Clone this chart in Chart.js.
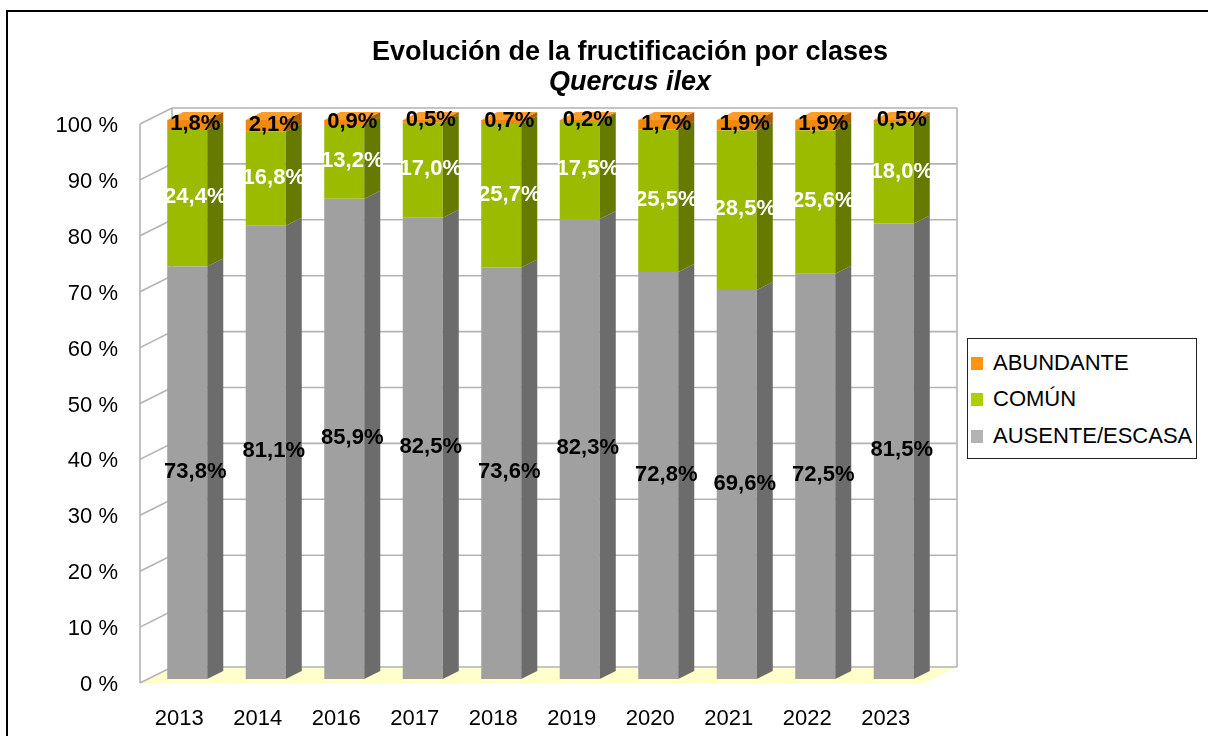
<!DOCTYPE html>
<html>
<head>
<meta charset="utf-8">
<script src="https://cdn.jsdelivr.net/npm/chart.js@4.4.1/dist/chart.umd.min.js"></script>
<style>
  html, body { margin: 0; padding: 0; background: #fff; overflow: hidden; }
  #wrap { position: relative; width: 1208px; height: 736px; overflow: hidden; }
  #frame { position: absolute; left: 6px; top: 10px; width: 1400px; height: 900px;
           border-left: 2px solid #000; border-top: 2px solid #000; }
  canvas { position: absolute; left: 0; top: 0; }
  #legend { position: absolute; left: 967px; top: 338px; width: 228px; height: 119px;
            border: 1px solid #222; background: #fff;
            font-family: "Liberation Sans", Arial, sans-serif; font-size: 22px; color: #000; }
  .item { position: absolute; left: 3px; height: 26px; line-height: 26px; white-space: nowrap; }
  .sw { position: absolute; left: 0; top: 7px; width: 12px; height: 13px; }
  .tx { position: absolute; left: 22px; top: 0; }
</style>
</head>
<body>
<div id="wrap">
  <div id="frame"></div>
  <canvas id="c" width="1208" height="736"></canvas>
  <div id="legend"></div>
</div>
<script>
// ---- data ----
const categories = ['2013', '2014', '2016', '2017', '2018', '2019', '2020', '2021', '2022', '2023'];
const ausenteEscasa = [73.8, 81.1, 85.9, 82.5, 73.6, 82.3, 72.8, 69.6, 72.5, 81.5];
const comun         = [24.4, 16.8, 13.2, 17.0, 25.7, 17.5, 25.5, 28.5, 25.6, 18.0];
const abundante     = [1.8, 2.1, 0.9, 0.5, 0.7, 0.2, 1.7, 1.9, 1.9, 0.5];
const seriesNames = ['AUSENTE/ESCASA', 'COMÚN', 'ABUNDANTE'];
const titleText = 'Evolución de la fructificación por clases';
const subtitleText = 'Quercus ilex';

// ---- styles ----
const FONT = "'Liberation Sans', Arial, Helvetica, sans-serif";
const frontColors  = ['#a0a0a0', '#9bbb00', '#f08a0c'];
const sideColors   = ['#6c6c6c', '#667a00', '#a85f06'];
const legendColors = ['#b3b3b3', '#aecf00', '#ff950e'];
const labelColors  = ['#000000', '#ffffff', '#000000'];
const topColor = '#ff9d2a';

// 3D offsets (relative to the bar plane handled by Chart.js)
const BAR_DX = 16, BAR_DY = -8;
const BACK_DX = 24, BACK_DY = -12;
const FRONT_DX = -8, FRONT_DY = 4;
const LABEL_DY = -1;

function fmt(v) { return v.toFixed(1).replace('.', ',') + '%'; }

const depthPlugin = {
  id: 'depth3d',
  beforeDatasetsDraw(chart) {
    const { ctx, chartArea: ca, scales } = chart;
    const y = scales.y;
    const L = ca.left, R = ca.right;
    const y0 = y.getPixelForValue(0), y1 = y.getPixelForValue(100);
    ctx.save();
    // floor
    ctx.fillStyle = '#ffffcc';
    ctx.beginPath();
    ctx.moveTo(L + BACK_DX, y0 + BACK_DY);
    ctx.lineTo(R + BACK_DX, y0 + BACK_DY);
    ctx.lineTo(R + FRONT_DX, y0 + FRONT_DY);
    ctx.lineTo(L + FRONT_DX, y0 + FRONT_DY);
    ctx.closePath();
    ctx.fill();
    // back wall
    ctx.fillStyle = '#ffffff';
    ctx.fillRect(L + BACK_DX, y1 + BACK_DY, R - L, y0 - y1);
    // left wall
    ctx.beginPath();
    ctx.moveTo(L + FRONT_DX, y1 + FRONT_DY);
    ctx.lineTo(L + BACK_DX, y1 + BACK_DY);
    ctx.lineTo(L + BACK_DX, y0 + BACK_DY);
    ctx.lineTo(L + FRONT_DX, y0 + FRONT_DY);
    ctx.closePath();
    ctx.fill();
    // grid lines
    ctx.strokeStyle = '#b3b3b3';
    ctx.lineWidth = 1.6;
    y.ticks.forEach(t => {
      const py = y.getPixelForValue(t.value);
      ctx.beginPath();
      ctx.moveTo(L + FRONT_DX, py + FRONT_DY);
      ctx.lineTo(L + BACK_DX, py + BACK_DY);
      ctx.lineTo(R + BACK_DX, py + BACK_DY);
      ctx.stroke();
    });
    // wall edges
    ctx.beginPath();
    ctx.moveTo(L + FRONT_DX, y1 + FRONT_DY);
    ctx.lineTo(L + FRONT_DX, y0 + FRONT_DY);
    ctx.moveTo(L + BACK_DX, y1 + BACK_DY);
    ctx.lineTo(L + BACK_DX, y0 + BACK_DY);
    ctx.moveTo(R + BACK_DX, y1 + BACK_DY);
    ctx.lineTo(R + BACK_DX, y0 + BACK_DY);
    ctx.stroke();
    ctx.restore();
  },
  afterDatasetsDraw(chart) {
    const { ctx } = chart;
    ctx.save();
    const n = chart.data.datasets.length;
    // side faces
    for (let d = 0; d < n; d++) {
      const meta = chart.getDatasetMeta(d);
      meta.data.forEach(el => {
        const p = el.getProps(['x', 'y', 'base', 'width'], true);
        const right = p.x + p.width / 2;
        ctx.fillStyle = sideColors[d];
        ctx.beginPath();
        ctx.moveTo(right, p.y);
        ctx.lineTo(right + BAR_DX, p.y + BAR_DY);
        ctx.lineTo(right + BAR_DX, p.base + BAR_DY);
        ctx.lineTo(right, p.base);
        ctx.closePath();
        ctx.fill();
      });
    }
    // top faces of the highest segment
    const topMeta = chart.getDatasetMeta(n - 1);
    topMeta.data.forEach(el => {
      const p = el.getProps(['x', 'y', 'base', 'width'], true);
      const left = p.x - p.width / 2, right = p.x + p.width / 2;
      ctx.fillStyle = topColor;
      ctx.beginPath();
      ctx.moveTo(left, p.y);
      ctx.lineTo(right, p.y);
      ctx.lineTo(right + BAR_DX, p.y + BAR_DY);
      ctx.lineTo(left + BAR_DX, p.y + BAR_DY);
      ctx.closePath();
      ctx.fill();
    });
    // value labels
    ctx.font = 'bold 22px ' + FONT;
    ctx.textAlign = 'center';
    ctx.textBaseline = 'middle';
    for (let d = 0; d < n; d++) {
      const meta = chart.getDatasetMeta(d);
      const values = chart.data.datasets[d].data;
      meta.data.forEach((el, i) => {
        const p = el.getProps(['x', 'y', 'base', 'width'], true);
        const mid = (p.y + p.base) / 2;
        ctx.fillStyle = labelColors[d];
        ctx.fillText(fmt(values[i]), p.x + BAR_DX / 2, mid + LABEL_DY);
      });
    }
    ctx.restore();
  }
};

Chart.defaults.font.family = FONT;
Chart.defaults.color = '#000';

const seriesData = [ausenteEscasa, comun, abundante];
const datasets = seriesData.map((arr, i) => ({
  label: seriesNames[i],
  data: arr,
  backgroundColor: frontColors[i],
  borderWidth: 0,
  barPercentage: 0.51,
  categoryPercentage: 1.0
}));

new Chart(document.getElementById('c'), {
  type: 'bar',
  data: { labels: categories, datasets },
  options: {
    responsive: false,
    animation: false,
    devicePixelRatio: 1,
    layout: { padding: { left: 52, right: 0, top: 0, bottom: 0 } },
    plugins: {
      legend: { display: false },
      tooltip: { enabled: false },
      title: {
        display: true, text: titleText, color: '#000',
        font: { size: 27, weight: 'bold', lineHeight: 30 / 27 },
        padding: { top: 38, bottom: 0 }
      },
      subtitle: {
        display: true, text: subtitleText, color: '#000',
        font: { size: 27, weight: 'bold', style: 'italic', lineHeight: 30 / 27 },
        padding: { top: 0, bottom: 22 }
      }
    },
    scales: {
      x: {
        stacked: true,
        grid: { display: false, drawTicks: false },
        border: { display: false },
        ticks: { color: '#000', font: { size: 22 }, padding: 27, labelOffset: FRONT_DX },
        afterFit: s => { s.height = 57; }
      },
      y: {
        stacked: true, min: 0, max: 100,
        grid: { display: false, drawTicks: false },
        border: { display: false },
        ticks: { stepSize: 10, color: '#000', font: { size: 22 }, padding: 30, labelOffset: 6,
                 callback: v => v + ' %' },
        afterFit: s => { s.width = 96; }
      },
      y2: {
        type: 'linear', position: 'right', display: true,
        grid: { display: false, drawTicks: false },
        border: { display: false },
        ticks: { display: false },
        afterFit: s => { s.width = 275; }
      }
    }
  },
  plugins: [depthPlugin]
});

// legend (reverse order, as in the reference)
const legend = document.getElementById('legend');
const rowTops = [11, 47, 84];
[2, 1, 0].forEach((d, k) => {
  const item = document.createElement('div');
  item.className = 'item';
  item.style.top = rowTops[k] + 'px';
  item.innerHTML = '<span class="sw" style="background:' + legendColors[d] + '"></span><span class="tx"></span>';
  item.querySelector('.tx').textContent = seriesNames[d];
  legend.appendChild(item);
});
</script>
</body>
</html>
